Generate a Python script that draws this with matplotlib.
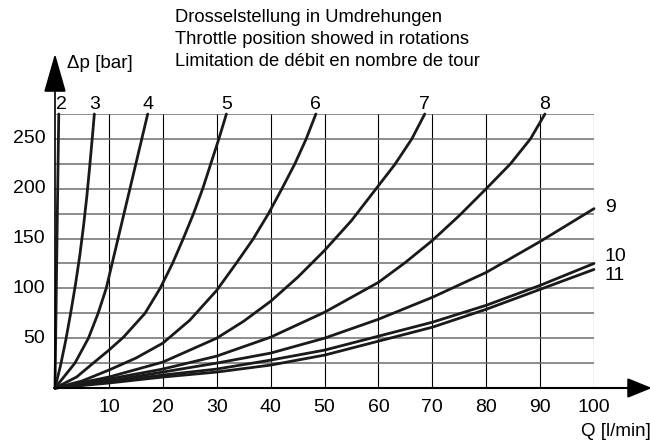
import matplotlib
matplotlib.use("Agg")
import matplotlib.pyplot as plt

plt.rcParams["font.family"] = ["Liberation Sans", "DejaVu Sans"]

# throttle curves: flow Q [l/min] vs pressure drop dp [bar]
curve_labels = ["2", "3", "4", "5", "6", "7", "8", "9", "10", "11"]

q2 = [0, 0.15, 0.3, 0.45, 0.58, 0.7]
dp2 = [0, 60, 120, 180, 230, 275]

q3 = [0, 1.0, 2.0, 2.9, 3.8, 4.6, 5.3, 5.9, 6.4, 6.9, 7.3]
dp3 = [0, 22, 48, 75, 104, 133, 163, 192, 220, 250, 275]

q4 = [0, 3.7, 6.2, 8.0, 9.5, 10.6, 11.7, 12.8, 13.9, 15.0, 16.1, 17.2]
dp4 = [0, 25, 50, 75, 100, 125, 150, 175, 200, 225, 250, 275]

q5 = [0, 4.0, 7.1, 10, 12.7, 16.7, 19.5, 21.8, 23.8, 25.7, 27.4, 28.9, 30.4, 31.8]
dp5 = [0, 11, 25, 38, 51, 75, 100, 125, 150, 175, 200, 225, 250, 275]

q6 = [0, 5, 10, 15, 20, 25, 30, 33.6, 36.7, 39.6, 42.1, 44.5, 46.6, 48.4]
dp6 = [0, 7, 18, 30, 45, 68, 98, 125, 149, 175, 200, 225, 250, 275]

q7 = [0, 10, 20, 30, 35, 40, 45, 50, 55, 60, 63, 66.2, 68.6]
dp7 = [0, 11, 26, 50, 67, 87, 111, 138, 168, 203, 224, 250, 275]

q8 = [0, 10, 20, 30, 40, 50, 60, 65, 70, 75, 80, 84.5, 88.2, 90.9]
dp8 = [0, 9, 19, 32, 51, 76, 106, 126, 148, 173, 200, 225, 250, 275]

q9 = [0, 10, 20, 30, 40, 50, 60, 70, 80, 90, 100]
dp9 = [0, 7, 16, 25, 35, 50, 69, 91, 116, 147, 180]

q10 = [0, 10, 20, 30, 40, 50, 60, 70, 80, 90, 100]
dp10 = [0, 6, 13, 19, 28, 38, 52, 66, 83, 103, 125]

q11 = [0, 10, 20, 30, 40, 50, 60, 70, 80, 90, 100]
dp11 = [0, 5, 11, 16, 23, 33, 47, 61, 79, 99, 119]

x_ticks = [10, 20, 30, 40, 50, 60, 70, 80, 90, 100]
y_ticks = [50, 100, 150, 200, 250]

title_lines = [
    "Drosselstellung in Umdrehungen",
    "Throttle position showed in rotations",
    "Limitation de débit en nombre de tour",
]

curves = [(q2, dp2), (q3, dp3), (q4, dp4), (q5, dp5), (q6, dp6),
          (q7, dp7), (q8, dp8), (q9, dp9), (q10, dp10), (q11, dp11)]

fig = plt.figure(figsize=(6.5, 4.43), dpi=100)
ax = fig.add_axes([55 / 650, 1 - 388 / 443, 539 / 650, 274 / 443])
ax.set_xlim(0, 100)
ax.set_ylim(0, 275)
for s in ax.spines.values():
    s.set_visible(False)
ax.set_xticks([])
ax.set_yticks([])

# grid
for x in range(10, 101, 10):
    ax.plot([x, x], [0, 275], color="black", lw=0.8, zorder=1)
for y in range(25, 276, 25):
    ax.plot([0, 100], [y, y], color="#6e6e6e", lw=1.1, zorder=1)

# axes with arrow heads
ax.plot([0, 0], [0, 300], color="black", lw=1.2, clip_on=False, zorder=3)
ax.fill([-1.85, 1.85, 0], [298, 298, 333], color="black", clip_on=False, zorder=3)
ax.plot([0, 107], [0, 0], color="black", lw=1.5, clip_on=False, zorder=3)
ax.fill([106.3, 106.3, 110.4], [-9, 9, 0], color="black", clip_on=False, zorder=3)

for q, dp in curves:
    ax.plot(q, dp, color="#1a1a1a", lw=2.0, solid_capstyle="round",
            solid_joinstyle="round", clip_on=False, zorder=2)

# curve labels on top
for (q, dp), lab in zip(curves[:7], curve_labels[:7]):
    xo = 0.5 if lab == "2" else 0
    ax.text(q[-1] + xo, 285, lab, ha="center", va="center", fontsize=14)
# curve labels on the right
for lab, y in zip(curve_labels[7:], [181, 132, 113]):
    ax.text(102.0, y, lab, ha="left", va="center", fontsize=14)

for x in x_ticks:
    ax.text(x, -20, str(x), ha="center", va="center", fontsize=14)
for y in y_ticks:
    ax.text(-1.8, y, str(y), ha="right", va="center", fontsize=14)

ax.text(110.5, -44, "Q [l/min]", ha="right", va="center", fontsize=13.5)
ax.text(2.3, 326, "\u0394p [bar]", ha="left", va="center", fontsize=13.5)
for i, line in enumerate(title_lines):
    fig.text(175 / 650, 1 - (18 + 22 * i) / 443, line, ha="left", va="center",
             fontsize=13.2)

fig.savefig("out.png", dpi=100)
